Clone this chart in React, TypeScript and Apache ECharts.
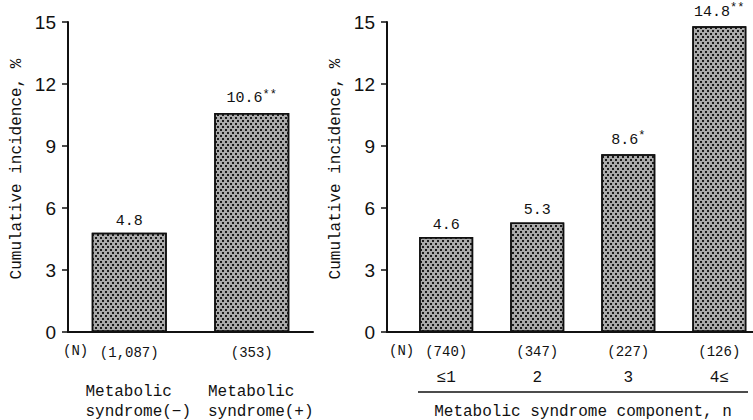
import React, { useEffect, useRef } from "react";
import * as echarts from "echarts";

const leftN = ["(1,087)", "(353)"];
const leftNames = ["Metabolic\nsyndrome(−)", "Metabolic\nsyndrome(+)"];
const leftValues = [4.8, 10.6];
const leftSig = ["", "**"];

const rightN = ["(740)", "(347)", "(227)", "(126)"];
const rightCats = ["≤1", "2", "3", "4≤"];
const rightValues = [4.6, 5.3, 8.6, 14.8];
const rightSig = ["", "", "*", "**"];

const yMin = 0;
const yMax = 15;
const yInterval = 3;

const MONO = "'Liberation Mono', 'DejaVu Sans Mono', monospace";
const NARROW = "'Liberation Sans Narrow', 'Liberation Sans', sans-serif";
const INK = "#111";

const decal = {
  symbol: "rect",
  symbolSize: 1,
  dashArrayX: [[1.2, 2.8], [0, 2, 1.2, 0.8]],
  dashArrayY: [1.2, 0.8],
  color: "#1a1a1a",
  backgroundColor: "#ffffff",
  rotation: 0,
};

function valueLabel(vals: number[], sig: string[]) {
  return {
    show: true,
    position: "top",
    distance: 4,
    formatter: (p: any) => {
      const i = p.dataIndex;
      const v = vals[i].toFixed(1);
      return sig[i] ? `{v|${v}}{s|${sig[i]}}` : `{v|${v}}`;
    },
    rich: {
      v: { fontFamily: MONO, fontSize: 15, color: INK },
      s: { fontFamily: MONO, fontSize: 12, color: INK, verticalAlign: "top", padding: [0, 0, 8, 0] },
    },
  };
}

function yAxis(gridIndex: number) {
  return {
    type: "value",
    gridIndex,
    min: yMin,
    max: yMax,
    interval: yInterval,
    name: "Cumulative incidence, %",
    nameLocation: "middle",
    nameGap: 43,
    nameTextStyle: { fontFamily: MONO, fontSize: 16, color: INK, padding: [0, 0, 0, 16] },
    axisLine: { show: true, onZero: false, lineStyle: { color: INK, width: 2 } },
    axisTick: { show: true, length: 6, lineStyle: { color: INK, width: 1.5 } },
    axisLabel: { margin: 12, fontFamily: NARROW, fontSize: 19, color: INK },
    splitLine: { show: false },
  };
}

export default function App() {
  const ref = useRef<HTMLDivElement>(null);
  useEffect(() => {
    if (!ref.current) return;
    const chart = echarts.init(ref.current, null, { renderer: "svg" });
    chart.setOption({
      animation: false,
      backgroundColor: "#fff",
      grid: [
        { left: 68, right: 440, top: 22, bottom: 88, containLabel: false, outerBoundsMode: "none" },
        { left: 387, right: 0, top: 22, bottom: 88, containLabel: false, outerBoundsMode: "none" },
      ],
      xAxis: [
        {
          type: "category",
          gridIndex: 0,
          position: "bottom",
          data: leftN,
          axisLine: { show: true, onZero: false, lineStyle: { color: INK, width: 2 } },
          axisTick: { show: false },
          axisLabel: { margin: 13, fontFamily: MONO, fontSize: 14, lineHeight: 16, color: INK },
        },
        {
          type: "category",
          gridIndex: 0,
          position: "bottom",
          offset: 0,
          data: leftNames,
          axisLine: { show: false, onZero: false },
          axisTick: { show: false },
          axisLabel: {
            margin: 50,
            padding: [0, 0, 0, 18],
            formatter: (v: string) => v.split("\n").map((s) => `{a|${s}}`).join("\n"),
            rich: { a: { align: "left", fontFamily: MONO, fontSize: 16, lineHeight: 20, color: INK } },
          },
        },
        {
          type: "value",
          gridIndex: 1,
          position: "bottom",
          min: -0.65,
          max: 3.37,
          axisLine: { show: true, onZero: false, lineStyle: { color: INK, width: 2 } },
          axisTick: { show: false },
          splitLine: { show: false },
          axisLabel: {
            customValues: [0, 1, 2, 3],
            margin: 8,
            formatter: (v: number) => {
              const i = Math.round(v);
              return `{n|${rightN[i]}}\n{c|${rightCats[i]}}`;
            },
            rich: {
              n: { fontFamily: MONO, fontSize: 14, lineHeight: 24, color: INK },
              c: { fontFamily: MONO, fontSize: 16, lineHeight: 28, color: INK },
            },
          },
        },
      ],
      yAxis: [yAxis(0), yAxis(1)],
      series: [
        {
          type: "bar",
          xAxisIndex: 0,
          yAxisIndex: 0,
          data: leftValues,
          barWidth: 75,
          itemStyle: { color: "#aaa", borderColor: INK, borderWidth: 1.5, decal },
          label: valueLabel(leftValues, leftSig),
        },
        {
          type: "bar",
          xAxisIndex: 2,
          yAxisIndex: 1,
          data: rightValues.map((v, i) => [i, v]),
          barWidth: 54,
          itemStyle: { color: "#aaa", borderColor: INK, borderWidth: 1.5, decal },
          label: valueLabel(rightValues, rightSig),
        },
      ],
      graphic: [
        {
          type: "text",
          left: 63,
          top: 344,
          style: { text: "(N)", font: `14px ${MONO}`, fill: INK },
        },
        {
          type: "text",
          left: 389,
          top: 344,
          style: { text: "(N)", font: `14px ${MONO}`, fill: INK },
        },
        {
          type: "line",
          shape: { x1: 418, y1: 392, x2: 748, y2: 392 },
          style: { stroke: INK, lineWidth: 1.3 },
        },
        {
          type: "text",
          x: 583,
          y: 412,
          style: {
            text: "Metabolic syndrome component, n",
            font: `16px ${MONO}`,
            fill: INK,
            align: "center",
            verticalAlign: "middle",
          },
        },
      ],
    });
    return () => chart.dispose();
  }, []);
  return (
    <div
      ref={ref}
      style={{ position: "absolute", left: 0, top: 0, width: 753, height: 420 }}
    />
  );
}
